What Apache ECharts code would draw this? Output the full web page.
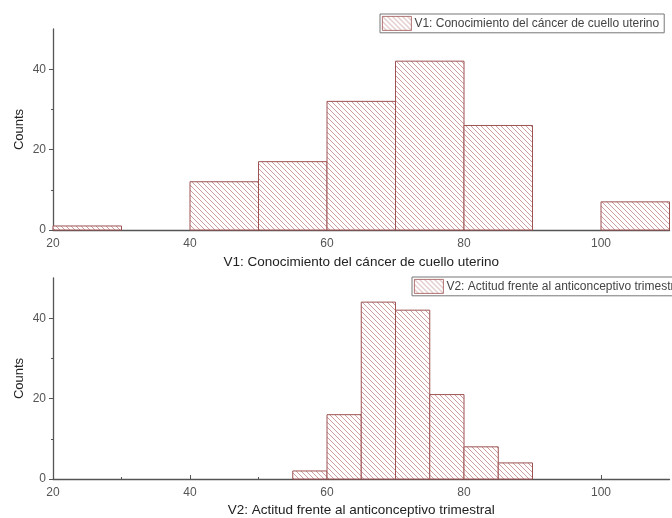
<!DOCTYPE html>
<html>
<head>
<meta charset="utf-8">
<script src="https://cdn.jsdelivr.net/npm/echarts@6/dist/echarts.min.js"></script>
<style>
  html, body { margin: 0; padding: 0; background: #fff; }
  #chart { width: 672px; height: 518px; }
</style>
</head>
<body>
<div id="chart"></div>
<script>
// V1: bins of width 10, edges 20..110
const v1Edges = [20, 30, 40, 50, 60, 70, 80, 90, 100, 110]
const v1Counts = [1, 0, 12, 17, 32, 42, 26, 0, 7]
// V2: bins of width 5, edges 55..90
const v2Edges = [55, 60, 65, 70, 75, 80, 85, 90]
const v2Counts = [2, 16, 44, 42, 21, 8, 4]

const v1Name = 'V1: Conocimiento del cáncer de cuello uterino'
const v2Name = 'V2: Actitud frente al anticonceptivo trimestral'
const xTicks = [20, 40, 60, 80, 100]
const yTicks = [0, 20, 40]

// diagonal hatch tile, lines running top-left to bottom-right
const makeHatch = () => {
  const n = 5
  const c = document.createElement('canvas')
  c.width = n
  c.height = n
  const ctx = c.getContext('2d')
  ctx.fillStyle = '#ffffff'
  ctx.fillRect(0, 0, n, n)
  const img = ctx.getImageData(0, 0, n, n)
  for (let y = 0; y < n; y++) {
    for (let x = 0; x < n; x++) {
      if ((x - y + n) % n === 0) {
        const i = (y * n + x) * 4
        img.data[i] = 206
        img.data[i + 1] = 158
        img.data[i + 2] = 158
        img.data[i + 3] = 255
      }
    }
  }
  ctx.putImageData(img, 0, 0)
  return { image: c, repeat: 'repeat' }
}
const hatch = makeHatch()
const barBorder = '#9e5252'

const toBins = (edges, counts) =>
  counts.map((c, i) => [edges[i], edges[i + 1], c]).filter((d) => d[2] > 0)

const renderBin = (params, api) => {
  const p0 = api.coord([api.value(0), api.value(2)])
  const p1 = api.coord([api.value(1), 0])
  return {
    type: 'rect',
    shape: { x: p0[0], y: p0[1], width: p1[0] - p0[0], height: p1[1] - p0[1] },
    style: { fill: hatch, stroke: barBorder, lineWidth: 1 },
  }
}

const font = 'Liberation Sans, Arial, sans-serif'
const axisColor = '#555'
const labelStyle = { color: '#555', fontSize: 12, fontFamily: font }
const nameStyle = { color: '#222', fontSize: 13.5, fontFamily: font }

const xAxisFor = (gridIndex, name, gap) => ({
  type: 'value',
  gridIndex,
  min: 20,
  max: 110,
  interval: 20,
  name,
  nameLocation: 'middle',
  nameGap: gap,
  nameTextStyle: nameStyle,
  axisLine: { show: true, onZero: false, lineStyle: { color: axisColor, width: 1.3 } },
  axisTick: { show: true, inside: true, length: 4, customValues: xTicks, lineStyle: { color: axisColor } },
  minorTick: { show: true, splitNumber: 2, length: 2, lineStyle: { color: axisColor } },
  axisLabel: { ...labelStyle, margin: 8, customValues: xTicks },
  splitLine: { show: false },
})

const yAxisFor = (gridIndex) => ({
  type: 'value',
  gridIndex,
  min: 0,
  max: 50,
  interval: 20,
  name: 'Counts',
  nameLocation: 'middle',
  nameGap: 27,
  nameMoveOverlap: false,
  nameTextStyle: { ...nameStyle, fontSize: 13 },
  axisLine: { show: true, lineStyle: { color: axisColor, width: 1.3 } },
  axisTick: { show: true, length: 4, customValues: yTicks, lineStyle: { color: axisColor } },
  minorTick: { show: true, splitNumber: 2, length: 2, lineStyle: { color: axisColor } },
  axisLabel: { ...labelStyle, margin: 7, customValues: yTicks },
  splitLine: { show: false },
})

const legendFor = (name, left, top) => ({
  data: [name],
  left,
  top,
  icon: 'rect',
  itemWidth: 29,
  itemHeight: 14,
  padding: [2, 5, 2, 2],
  borderColor: '#777',
  borderWidth: 1,
  selectedMode: false,
  itemStyle: { borderWidth: 0.8 },
  textStyle: { color: '#444', fontSize: 12, fontFamily: font, padding: [0, 0, 0, -2] },
})

const chart = echarts.init(document.getElementById('chart'), null, { renderer: 'canvas' })
chart.setOption({
  backgroundColor: '#fff',
  animation: false,
  grid: [
    { left: 53, top: 29, width: 616.5, height: 201 },
    { left: 53, top: 278, width: 616.5, height: 202 },
  ],
  xAxis: [xAxisFor(0, v1Name, 25), xAxisFor(1, v2Name, 24)],
  yAxis: [yAxisFor(0), yAxisFor(1)],
  legend: [legendFor(v1Name, 380, 14), legendFor(v2Name, 412, 277)],
  series: [
    {
      type: 'custom',
      name: v1Name,
      xAxisIndex: 0,
      yAxisIndex: 0,
      renderItem: renderBin,
      itemStyle: { color: hatch, borderColor: barBorder, borderWidth: 1 },
      encode: { x: [0, 1], y: 2 },
      data: toBins(v1Edges, v1Counts),
    },
    {
      type: 'custom',
      name: v2Name,
      xAxisIndex: 1,
      yAxisIndex: 1,
      renderItem: renderBin,
      itemStyle: { color: hatch, borderColor: barBorder, borderWidth: 1 },
      encode: { x: [0, 1], y: 2 },
      data: toBins(v2Edges, v2Counts),
    },
  ],
})
</script>
</body>
</html>
